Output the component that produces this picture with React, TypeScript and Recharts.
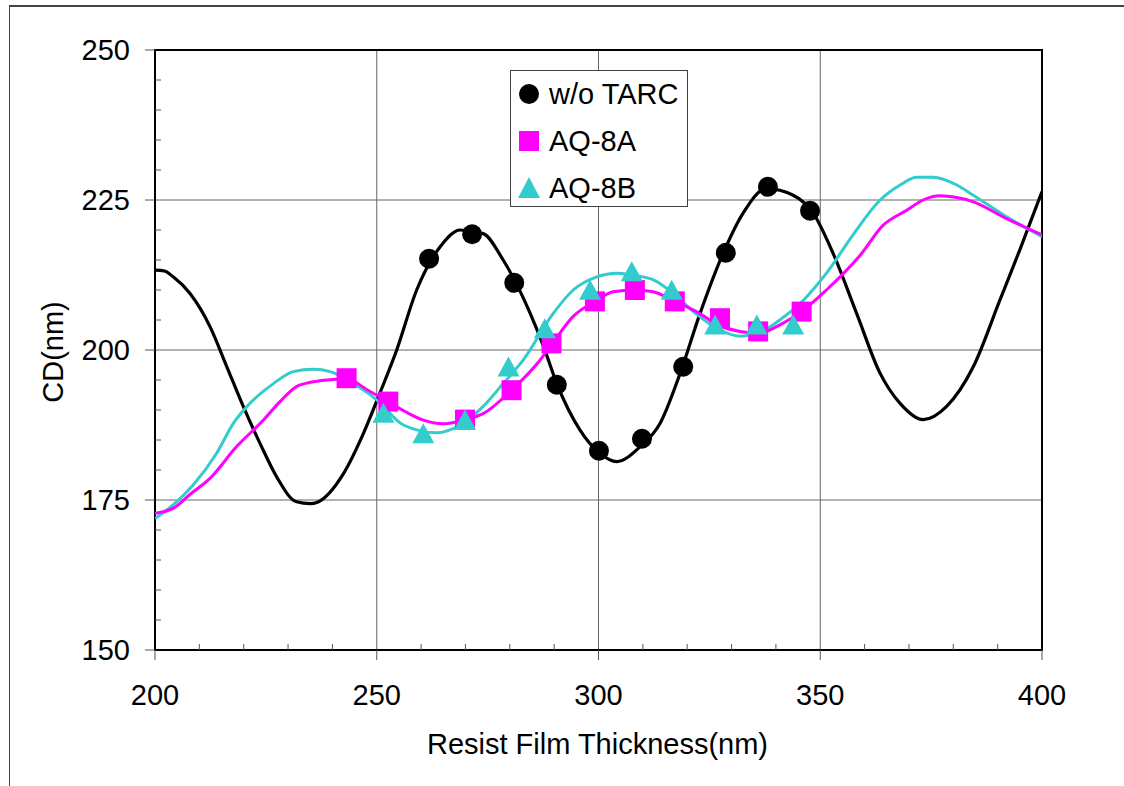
import React from 'react';
import {
  ComposedChart,
  CartesianGrid,
  XAxis,
  YAxis,
  Line,
  Scatter,
  ReferenceArea,
  Legend,
} from 'recharts';

// simulated curves (thickness nm -> CD nm)
const noTarcCurveT = [200, 202, 204.1, 207.9, 212.4, 216.2, 219.9, 223.7, 227.4, 231.9, 235, 236.5, 242.5, 247, 250.7, 254.5, 259, 264.3, 268.8, 274, 278.5, 284.6, 287.6, 290.6, 295.8, 300.3, 304.1, 309.4, 313.9, 318.4, 322.9, 328.1, 332.6, 337.9, 343.9, 348.4, 352.9, 358.2, 363.5, 368, 373.2, 378.5, 384.5, 390.5, 395, 400];
const noTarcCurveCD = [213.3, 213.2, 212.2, 209.4, 203.9, 197.2, 190.6, 184.4, 178.9, 174.7, 174.4, 174.6, 179.4, 186.1, 192.8, 200, 210, 217.2, 220, 219.4, 215, 206.1, 200.6, 194.4, 186.7, 182.8, 181.4, 183.9, 187.8, 196.1, 206.1, 216.1, 222.8, 226.9, 225.8, 222.8, 216.1, 206.1, 196.1, 191.1, 188.4, 190.6, 197.2, 208.3, 216.7, 226.4];

const aq8aCurveT = [200, 204.1, 208, 212.4, 218.4, 224.4, 228.2, 231.9, 235.7, 240.2, 243.2, 248, 252.6, 256.5, 260.5, 265, 269.9, 274, 280.4, 286.8, 290, 294.3, 299.2, 303.3, 308.2, 312.3, 317.2, 322.1, 327.4, 331.9, 336, 340.9, 345.8, 351.4, 359, 364.2, 369.5, 373.2, 377, 380.8, 384.5, 392, 400];
const aq8aCurveCD = [172.8, 173.6, 176, 178.6, 183.9, 188.3, 191.4, 193.9, 194.7, 195.1, 195.2, 193.3, 191.4, 189.7, 188.3, 187.7, 188.4, 189.4, 193.3, 198.3, 201.5, 205.6, 208.1, 209.7, 210, 209.7, 208.1, 206.4, 204, 203.1, 202.8, 204.2, 206.4, 210, 215.8, 220.8, 223.3, 225, 225.7, 225.4, 224.7, 221.9, 219.2];

const aq8bCurveT = [200, 204.1, 208.6, 213.9, 217.7, 221.4, 226.7, 231.2, 235.7, 239.5, 244, 250, 256, 263.5, 268.8, 274, 278.5, 283, 289.8, 294.3, 299.6, 304.1, 307.5, 312.4, 316.9, 321.4, 326.3, 331.9, 335.7, 340.9, 346.2, 351.4, 357.4, 363.5, 368, 371.8, 375.5, 380.8, 384.5, 392, 400];
const aq8bCurveCD = [171.9, 174.2, 177.5, 182.8, 187.8, 191.1, 194.4, 196.4, 196.8, 196.4, 194.7, 191.7, 187.5, 186.2, 187.5, 190.6, 194.4, 198.3, 206.1, 210, 212.2, 212.8, 212.5, 211.7, 209.4, 206.4, 203.8, 202.3, 202.7, 205, 208.3, 212.8, 219.2, 225, 227.5, 228.8, 228.8, 227.5, 225.8, 222.2, 218.9];

// measured points
const noTarcPtT = [261.8, 271.5, 281, 290.6, 300.1, 309.8, 319.1, 328.7, 338.2, 347.7];
const noTarcPtCD = [215.2, 219.3, 211.2, 194.2, 183.2, 185.2, 197.2, 216.2, 227.2, 223.2];

const aq8aPtT = [243.2, 252.6, 269.9, 280.4, 289.4, 299.2, 308.2, 317.2, 327.4, 336, 345.8];
const aq8aPtCD = [195.3, 191.4, 188.4, 193.3, 201.1, 208.1, 210, 208.1, 205.3, 203.1, 206.4];

const aq8bPtT = [251.5, 260.5, 269.9, 279.7, 287.9, 298.1, 307.5, 316.5, 326.3, 335.7, 343.9];
const aq8bPtCD = [189.2, 185.8, 188.1, 196.9, 203.3, 209.7, 212.8, 209.7, 203.9, 203.9, 203.9];

const xMajorTicks = [200, 250, 300, 350, 400];
const xAllTicks = [200, 210, 220, 230, 240, 250, 260, 270, 280, 290, 300, 310, 320, 330, 340, 350, 360, 370, 380, 390, 400];
const yMajorTicks = [150, 175, 200, 225, 250];
const yAllTicks = [150, 155, 160, 165, 170, 175, 180, 185, 190, 195, 200, 205, 210, 215, 220, 225, 230, 235, 240, 245, 250];

const seriesNames = ['w/o TARC', 'AQ-8A', 'AQ-8B'];
const xTitle = 'Resist Film Thickness(nm)';
const yTitle = 'CD(nm)';

const BLACK = '#000000';
const MAGENTA = '#ff00ff';
const CYAN = '#33cccc';
const FONT = '"Liberation Sans", Arial, sans-serif';

const zip = (t: number[], cd: number[]) => t.map((v, i) => ({ t: v, cd: cd[i] }));

const noTarcCurve = zip(noTarcCurveT, noTarcCurveCD);
const aq8aCurve = zip(aq8aCurveT, aq8aCurveCD);
const aq8bCurve = zip(aq8bCurveT, aq8bCurveCD);
const noTarcPts = zip(noTarcPtT, noTarcPtCD);
const aq8aPts = zip(aq8aPtT, aq8aPtCD);
const aq8bPts = zip(aq8bPtT, aq8bPtCD);

const XTick = ({ x, y, payload }: any) => {
  const major = xMajorTicks.includes(payload.value);
  return (
    <g>
      {major ? (
        <>
          <line x1={x} x2={x} y1={y} y2={y + 10} stroke="#555" />
          <text x={x} y={y + 55} textAnchor="middle" fontSize={29} fontFamily={FONT} fill="#000">
            {payload.value}
          </text>
        </>
      ) : (
        <line x1={x} x2={x} y1={y} y2={y - 6} stroke="#555" />
      )}
    </g>
  );
};

const YTick = ({ x, y, payload }: any) => {
  const major = yMajorTicks.includes(payload.value);
  return (
    <g>
      {major ? (
        <>
          <line x1={x - 10} x2={x} y1={y} y2={y} stroke="#555" />
          <text x={x - 25} y={y} dy="0.36em" textAnchor="end" fontSize={29} fontFamily={FONT} fill="#000">
            {payload.value}
          </text>
        </>
      ) : (
        <line x1={x} x2={x + 6} y1={y} y2={y} stroke="#555" />
      )}
    </g>
  );
};

const Dot = ({ cx, cy }: any) => <circle cx={cx} cy={cy} r={10} fill={BLACK} />;
const Square = ({ cx, cy }: any) => <rect x={cx - 10} y={cy - 10} width={20} height={20} fill={MAGENTA} />;
const Tri = ({ cx, cy }: any) => (
  <polygon points={`${cx},${cy - 12} ${cx - 11},${cy + 8} ${cx + 11},${cy + 8}`} fill={CYAN} />
);

const legendMarkers = [
  <circle cx={11} cy={11} r={10} fill={BLACK} />,
  <rect x={1} y={1} width={20} height={20} fill={MAGENTA} />,
  <polygon points="11,0 0,21 22,21" fill={CYAN} />,
];

const renderLegend = () => (
  <div
    style={{
      position: 'relative',
      width: 178,
      height: 137,
      border: '1px solid #404040',
      background: '#fff',
      boxSizing: 'border-box',
      fontFamily: FONT,
      fontSize: 29,
      lineHeight: 1,
      color: '#000',
    }}
  >
    {seriesNames.map((name, i) => (
      <div
        key={name}
        style={{
          position: 'absolute',
          left: 7,
          top: [23, 70, 117][i] - 23,
          height: 46,
          display: 'flex',
          alignItems: 'center',
          whiteSpace: 'nowrap',
        }}
      >
        <svg width={22} height={22} style={{ marginRight: 9 }}>
          {legendMarkers[i]}
        </svg>
        <span>{name}</span>
      </div>
    ))}
  </div>
);

const App: React.FC = () => {
  return (
    <div style={{ position: 'absolute', left: 0, top: 0, width: 1124, height: 786, background: '#fff', overflow: 'hidden' }}>
      <div style={{ position: 'absolute', left: 0, top: 0 }}>
        <ComposedChart width={1124} height={786} margin={{ top: 50, right: 82, bottom: 106, left: 95 }}>
          <CartesianGrid
            stroke="#666"
            strokeWidth={1}
            verticalValues={[250, 300, 350]}
            horizontalValues={[175, 200, 225]}
          />
          <XAxis
            type="number"
            dataKey="t"
            domain={[200, 400]}
            ticks={xAllTicks}
            interval={0}
            height={30}
            tickSize={0}
            tickMargin={0}
            tickLine={false}
            axisLine={false}
            tick={<XTick />}
            allowDataOverflow
          />
          <YAxis
            type="number"
            dataKey="cd"
            domain={[150, 250]}
            ticks={yAllTicks}
            interval={0}
            width={60}
            tickSize={0}
            tickMargin={0}
            tickLine={false}
            axisLine={false}
            tick={<YTick />}
            allowDataOverflow
          />
          <ReferenceArea x1={200} x2={400} y1={150} y2={250} fill="none" fillOpacity={0} stroke="#000" strokeWidth={2} ifOverflow="visible" />
          <Line data={noTarcCurve} dataKey="cd" type="monotone" stroke={BLACK} strokeWidth={3.2} dot={false} activeDot={false} isAnimationActive={false} legendType="none" />
          <Line data={aq8bCurve} dataKey="cd" type="monotone" stroke={CYAN} strokeWidth={3} dot={false} activeDot={false} isAnimationActive={false} legendType="none" />
          <Line data={aq8aCurve} dataKey="cd" type="monotone" stroke={MAGENTA} strokeWidth={3} dot={false} activeDot={false} isAnimationActive={false} legendType="none" />
          <Scatter name={seriesNames[0]} data={noTarcPts} dataKey="cd" shape={<Dot />} isAnimationActive={false} />
          <Scatter name={seriesNames[1]} data={aq8aPts} dataKey="cd" shape={<Square />} isAnimationActive={false} />
          <Scatter name={seriesNames[2]} data={aq8bPts} dataKey="cd" shape={<Tri />} isAnimationActive={false} />
          <Legend
            layout="vertical"
            align="center"
            verticalAlign="middle"
            content={renderLegend}
            wrapperStyle={{ left: 510, top: 70, width: 178, height: 137, margin: 0 }}
          />
        </ComposedChart>
      </div>
      {/* outer frame: only the top and left edges show in the source */}
      <div style={{ position: 'absolute', left: 9, top: 5, width: 1115, height: 2, background: '#444' }} />
      <div style={{ position: 'absolute', left: 9, top: 5, width: 1, height: 781, background: '#444' }} />
      <div
        style={{
          position: 'absolute',
          left: 0,
          width: 1124,
          top: 730,
          textAlign: 'center',
          paddingLeft: 71,
          boxSizing: 'border-box',
          fontFamily: FONT,
          fontSize: 29,
          lineHeight: 1,
          whiteSpace: 'nowrap',
        }}
      >
        {xTitle}
      </div>
      <div
        style={{
          position: 'absolute',
          left: 53,
          top: 352,
          transform: 'translate(-50%, -50%) rotate(-90deg)',
          fontFamily: FONT,
          fontSize: 29,
          lineHeight: 1,
          whiteSpace: 'nowrap',
        }}
      >
        {yTitle}
      </div>
    </div>
  );
};

export default App;
